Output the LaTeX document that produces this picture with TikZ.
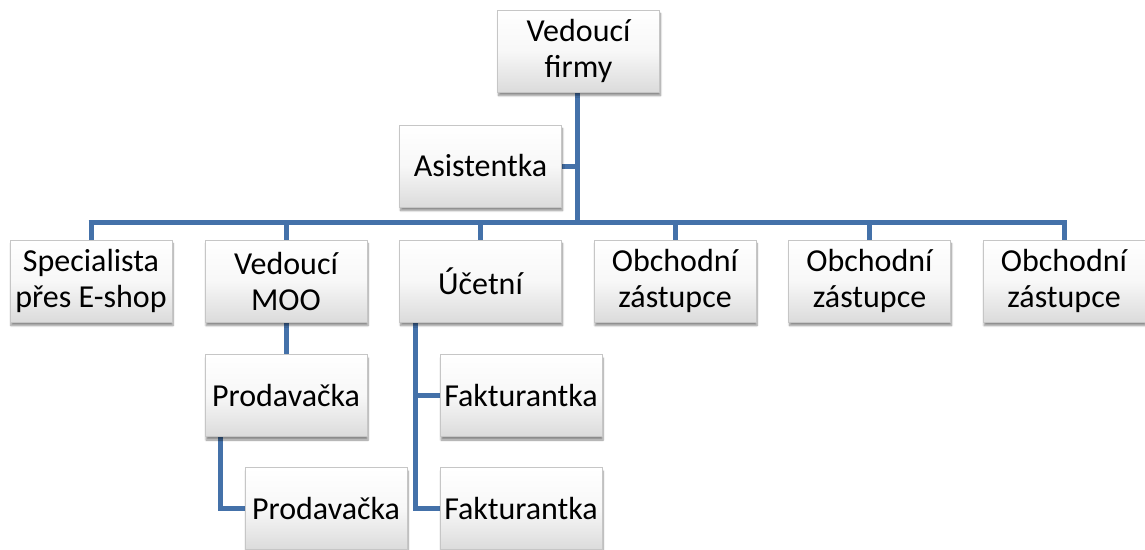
\documentclass[tikz,border=0pt]{standalone}
\usepackage{fontspec}
\setmainfont{Carlito}
\usetikzlibrary{shadows.blur}
\definecolor{linkblue}{HTML}{4471A9}
\pgfdeclarelayer{background}
\pgfsetlayers{background,main}
\begin{document}
\begin{tikzpicture}[x=1pt,y=1pt,
  box/.style={rectangle, draw=gray!45, line width=0.6pt,
    top color=white, bottom color=gray!28, middle color=gray!6,
    minimum width=162pt, minimum height=82pt, inner sep=2pt,
    align=center, font=\fontsize{32}{36}\selectfont,
    blur shadow={shadow xshift=1pt, shadow yshift=-3.5pt, shadow blur steps=6, shadow opacity=45}},
  link/.style={draw=linkblue, line width=5pt}]
\useasboundingbox (0,0) rectangle (1145,-549);
\path
  (578.5,-51) node[box] (firmy) {Vedoucí\\firmy}
  (480.5,-166) node[box] (asist) {Asistentka}
  (91,-281) node[box] (spec) {Specialista\\přes E-shop}
  (286,-281) node[box] (moo) {Vedoucí\\MOO}
  (480.5,-281) node[box] (uc) {Účetní}
  (675,-281) node[box] (ob1) {Obchodní\\zástupce}
  (869.5,-281) node[box] (ob2) {Obchodní\\zástupce}
  (1064,-281) node[box] (ob3) {Obchodní\\zástupce}
  (286,-395.5) node[box] (prod1) {Prodavačka}
  (326,-508.5) node[box] (prod2) {Prodavačka}
  (521,-395.5) node[box] (fakt1) {Fakturantka}
  (521,-508.5) node[box] (fakt2) {Fakturantka};
\coordinate (bar) at (577,-222);
\begin{pgfonlayer}{background}
  \draw[link] (firmy.south -| bar) -- (bar);
  \draw[link] (asist.east) -- (asist.east -| bar);
  \draw[link] ([xshift=-2.5pt]spec.north |- bar) -- ([xshift=2.5pt]ob3.north |- bar);
  \foreach \n in {spec,moo,uc,ob1,ob2,ob3}
    \draw[link] (\n.north |- bar) -- (\n.north);
  \draw[link] (moo.south) -- (prod1.north);
  \draw[link] ([xshift=16pt]prod1.south west) |- (prod2.west);
  \draw[link] ([xshift=16pt]uc.south west) |- (fakt2.west);
  \draw[link] ([xshift=16pt]uc.south west |- fakt1.west) -- (fakt1.west);
\end{pgfonlayer}
\end{tikzpicture}
\end{document}
